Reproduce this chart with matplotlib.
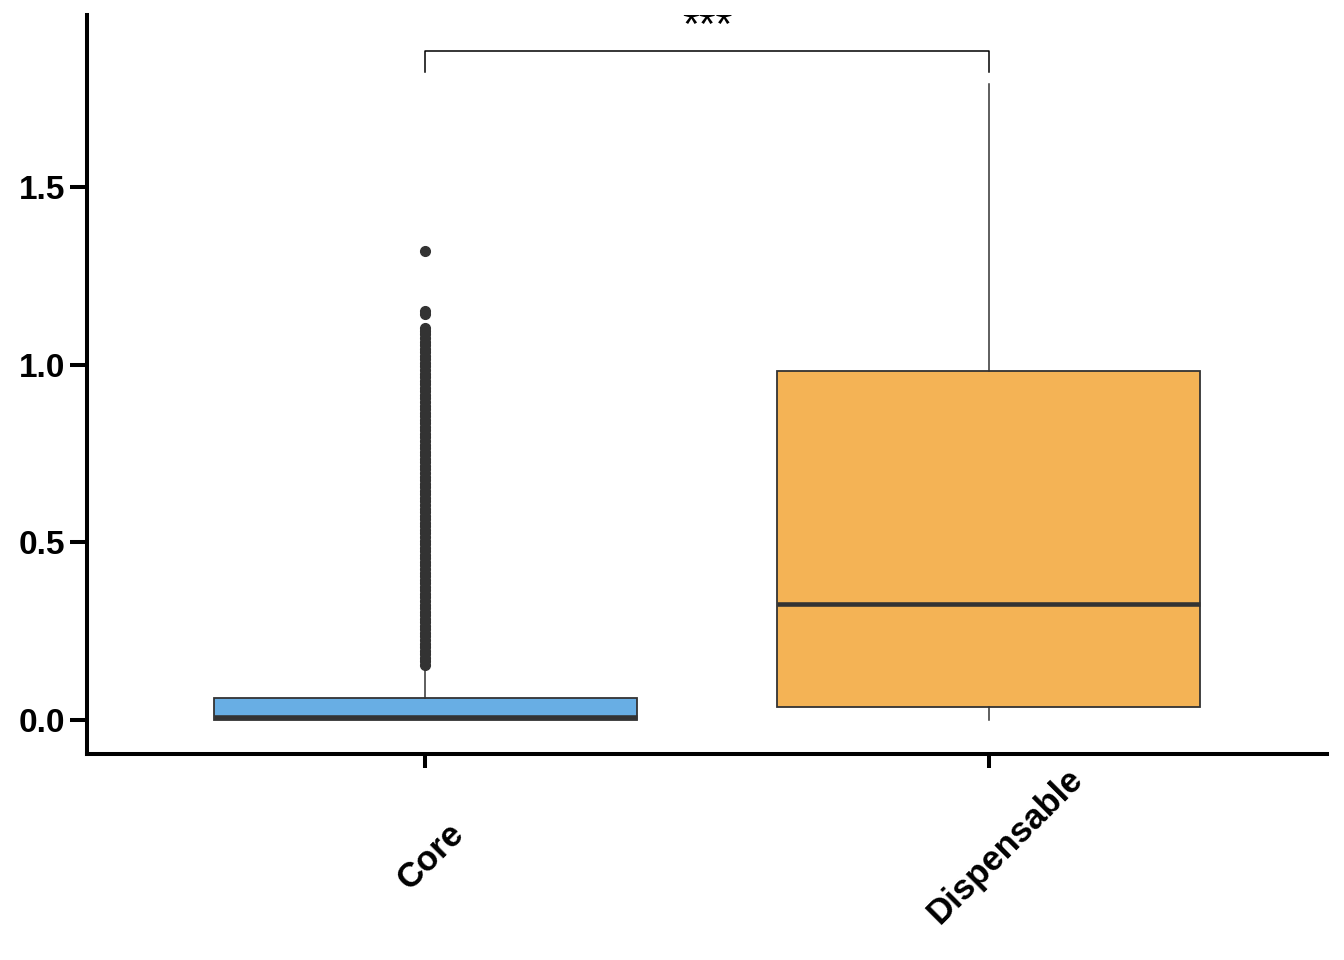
import matplotlib
matplotlib.use('Agg')
import matplotlib.pyplot as plt
from matplotlib.transforms import ScaledTranslation

# ---- data ----
categories = ['Core', 'Dispensable']
whislo = [0.0, 0.0]
q1 = [0.001, 0.0375]
med = [0.008, 0.3255]
q3 = [0.062, 0.982]
whishi = [0.145, 1.790]
core_outliers = [0.155, 0.165, 0.175, 0.185, 0.195, 0.205, 0.215, 0.225, 0.235, 0.245,
                 0.255, 0.265, 0.275, 0.285, 0.295, 0.305, 0.315, 0.325, 0.335, 0.345,
                 0.355, 0.365, 0.375, 0.385, 0.395, 0.405, 0.415, 0.425, 0.435, 0.445,
                 0.455, 0.465, 0.475, 0.485, 0.495, 0.505, 0.515, 0.525, 0.535, 0.545,
                 0.555, 0.565, 0.575, 0.585, 0.595, 0.605, 0.615, 0.625, 0.635, 0.645,
                 0.655, 0.665, 0.675, 0.685, 0.695, 0.705, 0.715, 0.725, 0.735, 0.745,
                 0.755, 0.765, 0.775, 0.785, 0.795, 0.805, 0.815, 0.825, 0.835, 0.845,
                 0.855, 0.865, 0.875, 0.885, 0.895, 0.905, 0.915, 0.925, 0.935, 0.945,
                 0.955, 0.965, 0.975, 0.985, 0.995, 1.005, 1.015, 1.025, 1.035, 1.045,
                 1.055, 1.065, 1.075, 1.085, 1.095, 1.103,
                 1.143, 1.151, 1.32]
disp_outliers = []
box_colors = ['#68AEE4', '#F4B355']
yticks = [0.0, 0.5, 1.0, 1.5]
ytick_labels = ['0.0', '0.5', '1.0', '1.5']
signif = '***'

plt.rcParams['font.family'] = ['Liberation Sans', 'DejaVu Sans']

fig = plt.figure(figsize=(13.44, 9.6), dpi=100)
ax = fig.add_axes([87 / 1344, 1 - 754 / 960, (1327 - 87) / 1344, (754 - 15) / 960])

stats = []
outs = [core_outliers, disp_outliers]
for i, c in enumerate(categories):
    stats.append(dict(label=c, whislo=whislo[i], q1=q1[i], med=med[i], q3=q3[i],
                      whishi=whishi[i], fliers=outs[i]))

dark = '#333333'
bp = ax.bxp(stats, positions=[0, 1], widths=0.75, patch_artist=True, showcaps=False,
            boxprops=dict(edgecolor=dark, linewidth=1.3),
            medianprops=dict(color=dark, linewidth=3.3, solid_capstyle='butt'),
            whiskerprops=dict(color=dark, linewidth=1.1),
            flierprops=dict(marker='o', markersize=7, markerfacecolor=dark,
                            markeredgecolor=dark, linestyle='none'))
for patch, col in zip(bp['boxes'], box_colors):
    patch.set_facecolor(col)

# significance bracket
ax.plot([0, 0, 1, 1], [1.824, 1.883, 1.883, 1.824], color='black', lw=1.1, clip_on=False)
ax.text(0.5, 1.92, signif, ha='center', va='baseline', fontsize=31, clip_on=True)

ax.set_xlim(-0.6, 1.6)
ax.set_ylim(-0.0957, 1.984)

for s in ['top', 'right']:
    ax.spines[s].set_visible(False)
for s in ['left', 'bottom']:
    ax.spines[s].set_linewidth(2.9)
    ax.spines[s].set_color('black')

ax.set_yticks(yticks)
ax.set_yticklabels(ytick_labels, fontsize=24, fontweight='bold')
ax.set_xticks([0, 1])
ax.set_xticklabels(categories, fontsize=25, fontweight='bold', rotation=45,
                   ha='center', va='center', rotation_mode='anchor')
ax.tick_params(axis='y', width=2.9, length=12, pad=3.5, colors='black')
ax.tick_params(axis='x', width=2.9, length=10, pad=60, colors='black')
shifts = [(6, -5), (16, 5)]
for lab, (dx, dy) in zip(ax.get_xticklabels(), shifts):
    off = ScaledTranslation(dx / 100, dy / 100, fig.dpi_scale_trans)
    lab.set_transform(lab.get_transform() + off)

fig.savefig('out.png', dpi=100)
